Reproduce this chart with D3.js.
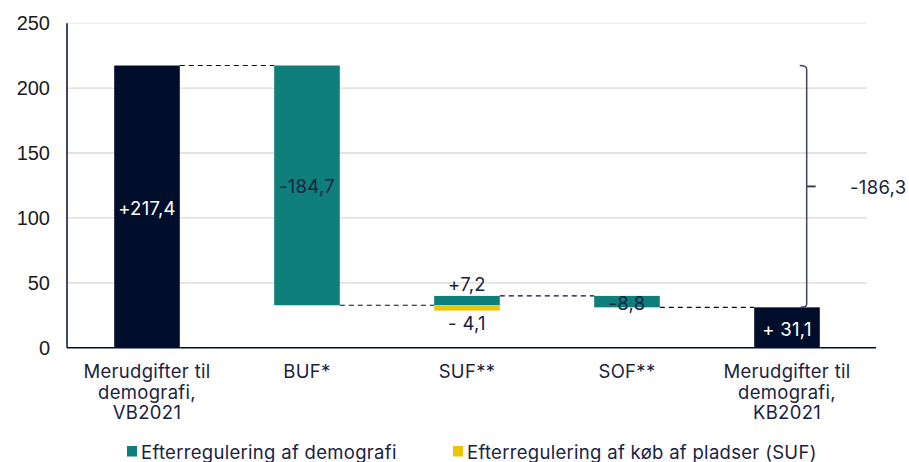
<!DOCTYPE html>
<html>
<head>
<meta charset="utf-8">
<script src="https://cdn.jsdelivr.net/npm/d3@7.9.0/dist/d3.min.js"></script>
<style>
  body { margin: 0; background: #fff; }
  svg { display: block; }
  .tick-label { font-family: "Liberation Sans", Arial, sans-serif; font-size: 20px; fill: #1b1b1b; }
  .lbl { font-family: Inter, "Noto Sans", sans-serif; font-size: 18.5px; letter-spacing: 0.3px; fill: #1b2240; }
</style>
</head>
<body>
<svg id="chart" width="909" height="462"></svg>
<script>
// data
const categories = ['Merudgifter til|demografi,|VB2021', 'BUF*', 'SUF**', 'SOF**', 'Merudgifter til|demografi,|KB2021'];
const barKind = ['total', 'delta', 'delta', 'delta', 'total'];
const demografi = [217.4, -184.7, 7.2, -8.8, 31.1];
const koebPladser = [0, 0, -4.1, 0, 0];
const demografiLabels = ['+217,4', '-184,7', '+7,2', '-8,8', '+ 31,1'];
const koebLabels = ['', '', '- 4,1', '', ''];
const yTicks = [0, 50, 100, 150, 200, 250];
const legendNames = ['Efterregulering af demografi', 'Efterregulering af køb af pladser (SUF)'];

const navy = '#000e2c';
const teal = '#0e7f7a';
const yellow = '#ecc400';
const textCol = '#1b2240';

const svg = d3.select('#chart');
const plotLeft = 67, plotRight = 867, plotTop = 23.2, plotBottom = 347.7;

const x = d3.scaleBand().domain(categories).range([plotLeft, plotRight])
  .paddingInner(0.59).paddingOuter(0.295);
const y = d3.scaleLinear().domain([0, 250]).range([plotBottom, plotTop]);

// gridlines
svg.append('g').selectAll('line')
  .data(yTicks.filter(d => d > 0))
  .join('line')
  .attr('x1', plotLeft).attr('x2', plotRight)
  .attr('y1', d => y(d)).attr('y2', d => y(d))
  .attr('stroke', d => d === 250 ? '#ececec' : '#d9d9d9')
  .attr('stroke-width', 1.3);

// y tick labels
svg.append('g').selectAll('text')
  .data(yTicks)
  .join('text')
  .attr('class', 'tick-label')
  .attr('x', 50).attr('y', d => y(d))
  .attr('text-anchor', 'end')
  .attr('dominant-baseline', 'central')
  .text(d => d);

// waterfall geometry
let running = 0;
const bars = categories.map((c, i) => {
  let start, end;
  if (barKind[i] === 'total') { start = 0; end = demografi[i]; }
  else { start = running; end = running + demografi[i]; }
  const base = start;
  running = end;
  return { cat: c, i, start, end, base, kind: barKind[i] };
});

// connectors (dashed)
const conn = svg.append('g');
bars.slice(0, -1).forEach((b, i) => {
  const nb = bars[i + 1];
  conn.append('line')
    .attr('x1', x(b.cat) + x.bandwidth())
    .attr('x2', x(nb.cat))
    .attr('y1', y(b.end)).attr('y2', y(b.end))
    .attr('stroke', navy).attr('stroke-width', 1.2)
    .attr('stroke-dasharray', '5,4');
});

// main bars
svg.append('g').selectAll('rect')
  .data(bars)
  .join('rect')
  .attr('x', d => x(d.cat))
  .attr('width', x.bandwidth())
  .attr('y', d => y(Math.max(d.start, d.end)))
  .attr('height', d => Math.abs(y(d.start) - y(d.end)))
  .attr('fill', d => d.kind === 'total' ? navy : teal);

// koeb af pladser bars (hang below the base of the delta bar)
const koeb = bars.filter(d => koebPladser[d.i] !== 0).map(d => ({
  cat: d.cat, i: d.i, start: d.base, end: d.base + koebPladser[d.i]
}));
svg.append('g').selectAll('rect')
  .data(koeb)
  .join('rect')
  .attr('x', d => x(d.cat))
  .attr('width', x.bandwidth())
  .attr('y', d => y(Math.max(d.start, d.end)))
  .attr('height', d => Math.abs(y(d.start) - y(d.end)))
  .attr('fill', yellow);

// axes lines
svg.append('line').attr('x1', plotLeft).attr('x2', plotLeft).attr('y1', plotTop).attr('y2', plotBottom)
  .attr('stroke', navy).attr('stroke-width', 1.5);
svg.append('line').attr('x1', plotLeft).attr('x2', 876).attr('y1', plotBottom).attr('y2', plotBottom)
  .attr('stroke', navy).attr('stroke-width', 1.5);

// value labels
const vl = svg.append('g');
bars.forEach(d => {
  const cx = x(d.cat) + x.bandwidth() / 2;
  const lo = Math.min(d.start, d.end), hi = Math.max(d.start, d.end);
  let ty;
  const fill = d.kind === 'total' ? '#fff' : textCol;
  if (demografi[d.i] > 0 && koebPladser[d.i] !== 0) ty = y(hi) - 12;
  else ty = y((lo + hi) / 2) + 1;
  vl.append('text').attr('class', 'lbl')
    .attr('x', cx).attr('y', ty)
    .attr('text-anchor', 'middle').attr('dominant-baseline', 'central')
    .style('fill', fill)
    .text(demografiLabels[d.i]);
});
koeb.forEach(d => {
  vl.append('text').attr('class', 'lbl')
    .attr('x', x(d.cat) + x.bandwidth() / 2).attr('y', y(d.end) + 12)
    .attr('text-anchor', 'middle').attr('dominant-baseline', 'central')
    .text(koebLabels[d.i]);
});

// bracket showing total change
const first = bars[0], last = bars[bars.length - 1];
const bx = x(last.cat) + x.bandwidth() * 0.8;
const yTop = y(first.end), yBot = y(last.end);
const yMid = yTop + (yBot - yTop) * 0.5;
svg.append('path')
  .attr('d', `M${bx - 7},${yTop} Q${bx},${yTop} ${bx},${yTop + 4} L${bx},${yBot - 3} Q${bx},${yBot} ${bx - 6},${yBot}`)
  .attr('fill', 'none').attr('stroke', '#3c4560').attr('stroke-width', 1.5);
svg.append('line').attr('x1', bx).attr('x2', bx + 9).attr('y1', yMid).attr('y2', yMid)
  .attr('stroke', '#3c4560').attr('stroke-width', 2);
const diff = last.end - first.end;
svg.append('text').attr('class', 'lbl')
  .attr('x', 850).attr('y', yMid + 1)
  .attr('dominant-baseline', 'central')
  .text(d3.format('.1f')(diff).replace('.', ',').replace('−', '-'));

// category labels
const cl = svg.append('g');
categories.forEach(c => {
  const t = cl.append('text').attr('class', 'lbl')
    .attr('x', x(c) + x.bandwidth() / 2).attr('y', 372)
    .attr('text-anchor', 'middle');
  c.split('|').forEach((line, k) => {
    t.append('tspan').attr('x', x(c) + x.bandwidth() / 2)
      .attr('dy', k === 0 ? '0.35em' : 20.5).text(line);
  });
});

// legend
const lg = svg.append('g');
const legendX = [127, 453];
[teal, yellow].forEach((col, k) => {
  lg.append('rect').attr('x', legendX[k]).attr('y', 446).attr('width', 10).attr('height', 10.5).attr('fill', col);
  lg.append('text').attr('class', 'lbl')
    .attr('x', legendX[k] + 14).attr('y', 451.5)
    .attr('dominant-baseline', 'central')
    .text(legendNames[k]);
});
</script>
</body>
</html>
